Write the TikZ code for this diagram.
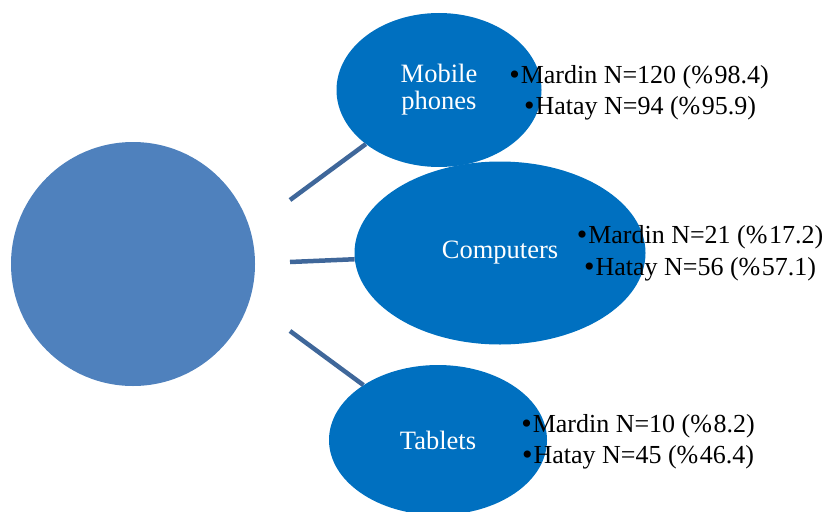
\documentclass[tikz,border=0pt]{standalone}
\usepackage{fontspec}
\setmainfont{Liberation Serif}
\usetikzlibrary{shapes.geometric}
\definecolor{hubblue}{HTML}{4F81BD}
\definecolor{itemblue}{HTML}{0070C0}
\definecolor{linkblue}{HTML}{3F679A}
\newcommand{\blt}{\raisebox{-1.5pt}{\fontsize{30}{30}\selectfont•}\hspace{1pt}}
\newcommand{\pct}{\%\hspace{1.5pt}}
\tikzset{
  hub/.style={circle, fill=hubblue, minimum size=244pt, inner sep=0pt},
  item/.style={ellipse, fill=itemblue, inner sep=0pt, text=white, align=center,
    font=\fontsize{26.5}{27}\selectfont},
  link/.style={draw=linkblue, line width=4.5pt},
  stat/.style={anchor=base, text=black, inner sep=0pt, font=\fontsize{26}{30}\selectfont}
}
\begin{document}
\begin{tikzpicture}[x=1pt,y=-1pt]
  \useasboundingbox (0,0) rectangle (826,511);

  % central circle
  \node[hub] (hub) at (133,264) {};

  % category ellipses
  \node[item, minimum width=205pt, minimum height=154pt] (mob) at (439,90) {Mobile\\phones};
  \node[item, minimum width=291pt, minimum height=183pt] (comp) at (500,253) {Computers};
  \node[item, minimum width=218pt, minimum height=150pt] (tab) at (438,440) {Tablets};

  % connectors
  \coordinate (s1) at (290,200);
  \coordinate (s2) at (290,262);
  \coordinate (s3) at (290,331);
  \draw[link] (s1) -- (mob);
  \draw[link] (s2) -- (comp);
  \draw[link] (s3) -- (tab);

  % figures per province
  \node[stat] (m1) at (639,83) {\blt Mardin N=120 (\pct 98.4)};
  \node[stat] (m2) at (640,114) {\blt Hatay N=94 (\pct 95.9)};
  \node[stat] (c1) at (700,243) {\blt Mardin N=21 (\pct 17.2)};
  \node[stat] (c2) at (700,275) {\blt Hatay N=56 (\pct 57.1)};
  \node[stat] (t1) at (638,432) {\blt Mardin N=10 (\pct 8.2)};
  \node[stat] (t2) at (638,463) {\blt Hatay N=45 (\pct 46.4)};
\end{tikzpicture}
\end{document}
